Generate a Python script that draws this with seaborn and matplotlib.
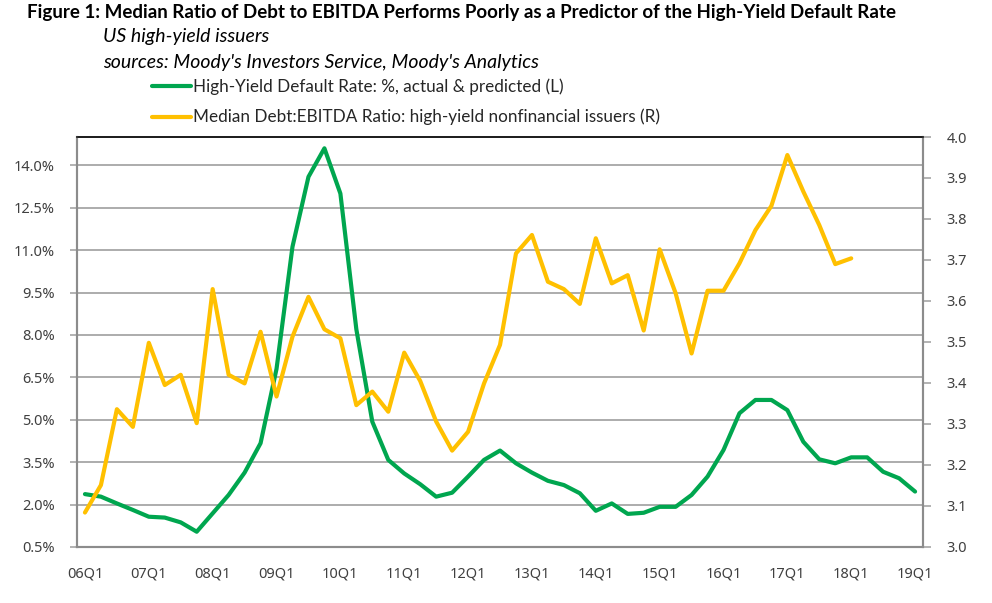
"""
Debt/EBITDA vs high-yield default rate chart
"""

import numpy as np
import pandas as pd
import matplotlib
matplotlib.use('Agg')
import matplotlib.pyplot as plt
from matplotlib.lines import Line2D
from matplotlib.ticker import FixedLocator, FuncFormatter
import seaborn as sns

# quarterly values, 06Q1 .. 19Q1
default_rate = [2.37, 2.28, 2.04, 1.81, 1.57, 1.54, 1.37, 1.04, 1.69, 2.34,
                3.13, 4.17, 6.8, 11.12, 13.59, 14.6, 13.0, 8.2, 4.93, 3.58,
                3.1, 2.72, 2.28, 2.42, 2.99, 3.58, 3.91, 3.46, 3.13, 2.84,
                2.69, 2.4, 1.78, 2.04, 1.67, 1.71, 1.92, 1.92, 2.34, 2.99,
                3.93, 5.23, 5.7, 5.7, 5.34, 4.22, 3.6, 3.46, 3.67, 3.67,
                3.16, 2.93, 2.46]
# 06Q1 .. 18Q1
debt_ebitda = [3.084, 3.151, 3.336, 3.293, 3.498, 3.395, 3.420, 3.302, 3.629, 3.420,
               3.399, 3.525, 3.367, 3.513, 3.610, 3.531, 3.509, 3.346, 3.379, 3.330,
               3.474, 3.405, 3.306, 3.235, 3.281, 3.399, 3.493, 3.716, 3.761, 3.647,
               3.629, 3.593, 3.753, 3.643, 3.663, 3.528, 3.726, 3.619, 3.472, 3.625,
               3.625, 3.692, 3.773, 3.832, 3.956, 3.867, 3.785, 3.690, 3.704]
year_labels = ['06Q1', '07Q1', '08Q1', '09Q1', '10Q1', '11Q1', '12Q1',
               '13Q1', '14Q1', '15Q1', '16Q1', '17Q1', '18Q1', '19Q1']
left_ticks = [0.5, 2.0, 3.5, 5.0, 6.5, 8.0, 9.5, 11.0, 12.5, 14.0]
right_ticks = [3.0, 3.1, 3.2, 3.3, 3.4, 3.5, 3.6, 3.7, 3.8, 3.9, 4.0]
series_names = ['High-Yield Default Rate: %, actual & predicted (L)',
                'Median Debt:EBITDA Ratio: high-yield nonfinancial issuers (R)']

GREEN = '#00A64F'
GOLD = '#FFC000'
GRID = '#A6A6A6'
TXT = '#404040'
HEAD = ['Lato', 'DejaVu Sans']

df_l = pd.DataFrame({'q': np.arange(len(default_rate)), 'v': default_rate})
df_r = pd.DataFrame({'q': np.arange(len(debt_ebitda)), 'v': debt_ebitda})

sns.set_style('white')
plt.rcParams['font.family'] = ['Noto Sans', 'DejaVu Sans']

fig = plt.figure(figsize=(9.92, 6.03), dpi=100)
ax = fig.add_axes([0.0776, 0.0929, 0.8529, 0.6799])
ax2 = ax.twinx()

sns.lineplot(data=df_l, x='q', y='v', ax=ax, color=GREEN, linewidth=3.0, zorder=3)
sns.lineplot(data=df_r, x='q', y='v', ax=ax2, color=GOLD, linewidth=3.0, zorder=3)

# left axis
ax.set_ylim(0.5, 15.0)
ax.yaxis.set_major_locator(FixedLocator(left_ticks))
ax.yaxis.set_major_formatter(FuncFormatter(lambda v, p: f'{v:.1f}%'))
ax.grid(axis='y', color=GRID, linewidth=1.3)
ax.set_axisbelow(True)

# right axis
ax2.set_ylim(3.0, 4.0)
ax2.yaxis.set_major_locator(FixedLocator(right_ticks))
ax2.yaxis.set_major_formatter(FuncFormatter(lambda v, p: f'{v:.1f}'))
ax2.grid(False)

# x axis: labels on year Q1, tick marks on quarter band edges
ax.set_xlim(-0.5, 52.5)
ax.set_xticks(np.arange(0, 53, 4))
ax.set_xticklabels(year_labels)
ax.set_xticks(np.arange(-0.5, 53, 4), minor=True)
ax.tick_params(axis='x', which='major', length=0, pad=14, labelsize=10.5, labelcolor=TXT)
ax.tick_params(axis='x', which='minor', length=10, direction='inout', width=1.2, color=GRID)
ax.tick_params(axis='y', length=5, direction='out', width=1.2, color=GRID, labelsize=10.5,
               labelcolor=TXT, pad=11)
ax2.tick_params(axis='y', length=6, direction='out', width=1.2, color=GRID, labelsize=10.5,
                labelcolor=TXT, pad=11)

ax.set_xlabel('')
ax.set_ylabel('')
ax2.set_ylabel('')

for a in (ax, ax2):
    for side in ('left', 'right', 'bottom'):
        a.spines[side].set_color('#8C8C8C')
        a.spines[side].set_linewidth(1.5)
    a.spines['top'].set_color('#1A1A1A')
    a.spines['top'].set_linewidth(1.2)

# header text
fig.text(0.027, 0.980, 'Figure 1: Median Ratio of Debt to EBITDA Performs Poorly as a Predictor of the High-Yield Default Rate',
         fontsize=13.5, fontweight='bold', family=HEAD, va='center', ha='left', color='black')
fig.text(0.104, 0.940, 'US high-yield issuers', fontsize=14, style='italic',
         family=HEAD, va='center', color='black')
fig.text(0.104, 0.897, "sources: Moody's Investors Service, Moody's Analytics", fontsize=14,
         style='italic', family=HEAD, va='center', color='black')

# legend drawn in figure coordinates, handle line butting the text
for name, col, yy in zip(series_names, [GREEN, GOLD], [0.857, 0.806]):
    fig.add_artist(Line2D([0.153, 0.193], [yy, yy], transform=fig.transFigure,
                          color=col, linewidth=3.0, solid_capstyle='round'))
    fig.text(0.195, yy, name, fontsize=12.3, family=HEAD, va='center', ha='left', color='#262626')

fig.savefig('out.png', dpi=100)
